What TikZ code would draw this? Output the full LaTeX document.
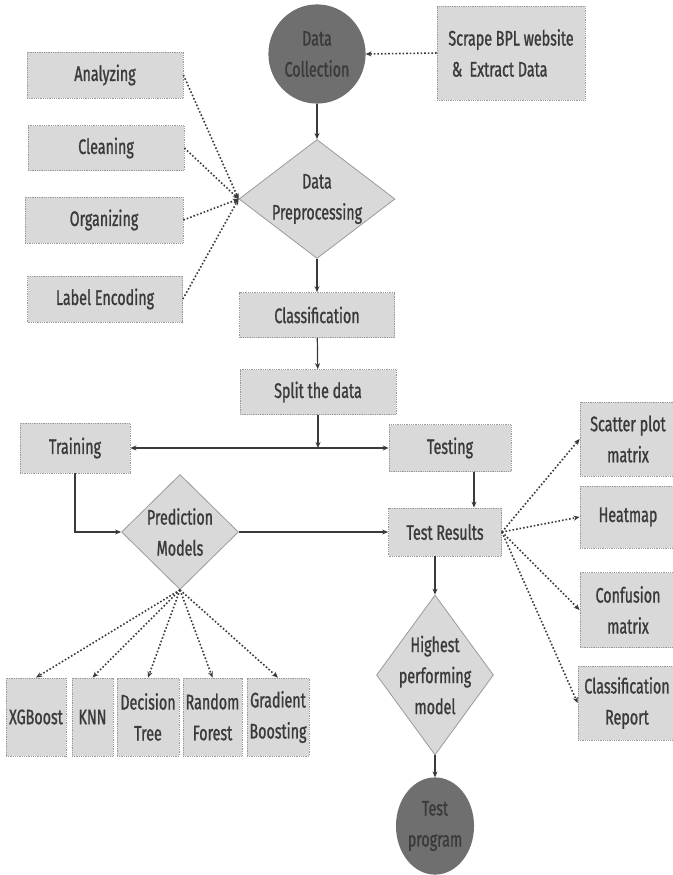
\documentclass[tikz,border=0pt]{standalone}
\usepackage{fontspec}
\setmainfont[FakeStretch=0.68,FakeBold=1]{Fira Sans}
\usetikzlibrary{shapes.geometric,arrows.meta,calc}
\definecolor{boxfill}{HTML}{D9D9D9}
\definecolor{boxline}{HTML}{9A9A9A}
\definecolor{darkfill}{HTML}{6F6F6F}
\definecolor{txtgray}{HTML}{3A3A3A}

\begin{document}
\begin{tikzpicture}[x=1pt,y=-1pt,line width=1.2pt,
	>={Stealth[length=6pt,width=5pt]},
	font=\fontsize{21}{31}\selectfont,
	box/.style = {draw=boxline, densely dotted, line width=0.8pt, fill=boxfill, text=txtgray, align=center, inner sep=0pt},
	diam/.style = {draw=boxline, line width=0.8pt, fill=boxfill, diamond, inner sep=0pt},
	dtxt/.style = {text=txtgray, align=center},
	term/.style = {draw=darkfill, fill=darkfill, ellipse, text=txtgray, align=center, inner sep=0pt},
	flow/.style = {->, color=txtgray},
	dots/.style = {->, color=txtgray, dotted, line width=1.6pt}]
	\useasboundingbox (0,0) rectangle (672,875);
	
	%Top of the chart
	\node[term, minimum width=96, minimum height=98] (dc) at (317,54) {Data\\Collection};
	\node[box, minimum width=148, minimum height=94, align=left] (scrape) at (511,53) {Scrape BPL website\\ \,\& \,Extract Data};
	\node[diam, minimum width=156, minimum height=119, label={[dtxt]center:Data\\Preprocessing}] (dp) at (317,199) {};
	
	%Preprocessing steps on the left
	\node[box, minimum width=156, minimum height=46] (ana) at (105,75) {Analyzing};
	\node[box, minimum width=156, minimum height=45] (cle) at (106,148) {Cleaning};
	\node[box, minimum width=158, minimum height=46] (org) at (104,220) {Organizing};
	\node[box, minimum width=155, minimum height=46] (lab) at (105,299) {Label Encoding};
	
	%Middle column
	\node[box, minimum width=155, minimum height=45] (cls) at (317,315) {Classification};
	\node[box, minimum width=156, minimum height=45] (split) at (318,392) {Split the data};
	\coordinate (fork) at (318,448);
	\node[box, minimum width=110, minimum height=50] (train) at (75,448) {Training};
	\node[box, minimum width=122, minimum height=47] (test) at (450,448) {Testing};
	\node[box, minimum width=113, minimum height=48] (res) at (445,532) {Test Results};
	\node[diam, minimum width=117, minimum height=115, label={[dtxt]center:Prediction\\Models}] (pm) at (180,532) {};
	\node[diam, minimum width=117, minimum height=160, label={[dtxt]center:Highest\\performing\\model}] (hpm) at (435,675) {};
	\node[term, minimum width=76, minimum height=96] (tp) at (435,826) {Test\\program};
	
	%Result boxes on the right
	\node[box, minimum width=96, minimum height=74] (scat) at (628,439) {Scatter plot\\matrix};
	\node[box, minimum width=96, minimum height=62] (heat) at (628,517) {Heatmap};
	\node[box, minimum width=96, minimum height=75] (conf) at (628,610) {Confusion\\matrix};
	\node[box, minimum width=98, minimum height=74] (crep) at (627,703) {Classification\\Report};
	
	%Models at the bottom
	\node[box, minimum width=60, minimum height=78] (xgb) at (36,717) {XGBoost};
	\node[box, minimum width=41, minimum height=78] (knn) at (92.5,717) {KNN};
	\node[box, minimum width=62, minimum height=78] (dt) at (148,717) {Decision\\Tree};
	\node[box, minimum width=59, minimum height=78] (rf) at (212.5,717) {Random\\Forest};
	\node[box, minimum width=62, minimum height=78] (gb) at (278,717) {Gradient\\Boosting};
	
	%Main flow
	\path [flow] (dc) edge (dp); %Collection -> preprocessing
	\path [flow] (dp) edge (cls); %Preprocessing -> classification
	\path [flow] (cls) edge (split); %Classification -> split
	\path [flow] (split) edge (fork); %Split -> fork
	\path [flow] (fork) edge (train.east); %Fork -> training
	\path [flow] (fork) edge (test.west); %Fork -> testing
	\draw [flow] ([xshift=24pt]test.south) -- ([xshift=24pt]test.south |- res.north); %Testing -> results
	\draw [flow] (train.south) |- (pm.west); %Training -> prediction models
	\path [flow] (pm.east) edge (res.west); %Prediction models -> results
	\draw [flow] (hpm.north |- res.south) -- (hpm.north); %Results -> best model
	\path [flow] (hpm) edge (tp); %Best model -> test program
	
	%Dotted links
	\draw [dots] (scrape.west) -- (dc.east); %Scrape -> collection
	\foreach \n in {ana,cle,org,lab}
		\draw [dots] (\n.east) -- (dp.west); %Steps -> preprocessing
	\foreach \n in {scat,heat,conf,crep}
		\draw [dots] (res.east) -- (\n.west); %Results -> plots
	\foreach \n in {xgb,knn,dt,rf,gb}
		\draw [dots] (pm.south) -- (\n.north); %Models
	
\end{tikzpicture}
\end{document}
